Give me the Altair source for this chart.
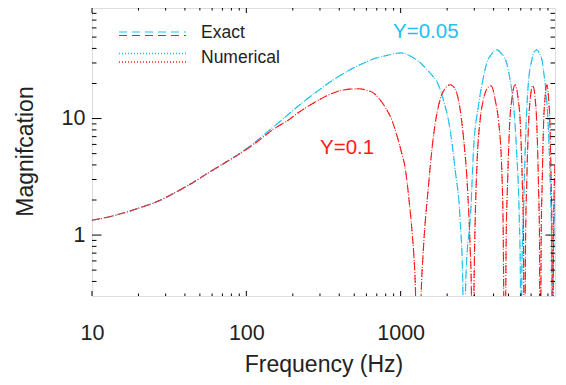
import altair as alt
import pandas as pd

# ---- data ----
red_freq = [10, 12.8, 16.4, 20.5, 26.2, 33.6, 43.2, 55.3, 71, 91, 117, 150, 187, 223, 286, 385, 470, 532,
            603, 665, 735, 812, 880, 944, 1010, 1068, 1138, 1190, 1240, 1306, 1356, 1403, 1514, 1631,
            1800, 1950, 2100, 2250, 2367, 2548, 2705, 2818, 2870, 2924, 2990, 3025, 3113, 3275, 3436,
            3620, 3837, 4000, 4093, 4296, 4518, 4620, 4720, 4830, 4920, 5100, 5250, 5508, 5780, 5943,
            6150, 6250, 6343, 6450, 6550, 6760, 6900, 7178, 7450, 7600, 7820, 7930, 8035, 8140, 8250,
            8450, 8600, 8851, 9100, 9250, 9450, 9560, 9670, 9800, 10000]
red_mag = [1.34, 1.43, 1.56, 1.72, 1.93, 2.27, 2.73, 3.35, 4.1, 5.0, 6.3, 8.1, 9.7, 11.5, 14.1, 17.0, 17.9, 18.0,
           17.5, 16.6, 14.5, 11.9, 9.6, 7.2, 5.2, 3.8, 1.9, 1.0, 0.42, 0.03, 0.3, 0.75, 2.64, 7.06,
           14.5, 18.3, 19.5, 18.0, 14.5, 7.06, 2.64, 0.8, 0.35, 0.03, 0.4, 1.0, 3.67, 9.8, 14.5,
           18.0, 19.1, 17.0, 14.5, 9.8, 3.67, 1.0, 0.03, 1.0, 2.6, 9.8, 14.5, 19.5, 14.5, 9.8,
           2.6, 1.0, 0.03, 1.0, 2.6, 9.8, 14.5, 19.1, 14.5, 9.8, 2.6, 1.0, 0.03, 1.0, 2.6,
           9.8, 14.5, 19.5, 14.5, 9.8, 2.6, 1.0, 0.03, 1.2, 4.0]

cyan_freq = [10, 12.8, 16.4, 20.5, 26.2, 33.6, 43.2, 55.3, 71, 91, 117, 135.5, 174, 223, 286, 366, 470, 573,
             665, 812, 944, 1000, 1042, 1151, 1270, 1403, 1549, 1753, 1890, 2090, 2253, 2427, 2525,
             2575, 2640, 2858, 2958, 3186, 3400, 3608, 3900, 4198, 4500, 4861, 5100, 5370, 5646, 5872,
             5960, 6025, 6100, 6250, 6400, 6560, 6760, 7050, 7300, 7621, 7950, 8300, 8409, 8700, 9065,
             9300, 9500, 9620, 9750, 10000]
cyan_mag = [1.34, 1.43, 1.56, 1.72, 1.93, 2.27, 2.73, 3.35, 4.1, 5.05, 6.45, 7.6, 10.0, 13.2, 17.0, 21.5, 26.2, 29.9,
            32.4, 34.8, 36.3, 36.6, 36.4, 34.5, 31.9, 28.4, 24.6, 19.5, 14.5, 8.05, 3.67, 1.37, 0.4,
            0.03, 0.4, 1.78, 5.1, 12.7, 21.0, 29.9, 36.0, 38.9, 36.0, 29.9, 22.0, 13.6, 5.1, 1.37,
            0.5, 0.03, 0.5, 1.6, 5.0, 12.0, 22.0, 31.0, 37.0, 38.9, 36.0, 30.0, 26.2, 18.0, 8.0,
            3.0, 0.9, 0.03, 0.5, 2.0]

x_major = [10, 100, 1000]
x_minor = [20, 30, 40, 50, 60, 70, 80, 90, 200, 300, 400, 500, 600, 700, 800, 900,
           2000, 3000, 4000, 5000, 6000, 7000, 8000, 9000]
y_major = [1, 10]
y_minor = [0.4, 0.5, 0.6, 0.7, 0.8, 0.9, 2, 3, 4, 5, 6, 7, 8, 9, 20, 30, 40, 50, 60, 70, 80]

legend_names = ["Exact", "Numerical"]
curve_names = ["Y=0.05", "Y=0.1"]

# ---- style ----
W, H = 463, 288
FONT = "Liberation Sans"
CYAN = "#1FBFEF"
RED = "#FF1A1A"
TXT = "#222222"
DASH = [8, 5]
DOT = [1, 2]

xs = alt.Scale(type="log", domain=[10, 10000])
ys = alt.Scale(type="log", domain=[0.3, 88.9])

red_df = pd.DataFrame({"f": red_freq, "m": red_mag})
cyan_df = pd.DataFrame({"f": cyan_freq, "m": cyan_mag})

x_axis = alt.Axis(values=x_major, format="d", ticks=False, tickSize=0, domain=False, grid=False,
                  labelFont=FONT, labelFontSize=21.5, labelColor=TXT, labelPadding=26, labelFlush=False,
                  title="Frequency (Hz)", titleFont=FONT, titleFontSize=23, titleFontWeight="normal",
                  titleColor=TXT, titleBaseline="middle", titleY=68)
y_axis = alt.Axis(values=y_major, format="d", ticks=False, tickSize=0, domain=False, grid=False,
                  labelFont=FONT, labelFontSize=21.5, labelColor=TXT, labelPadding=7,
                  title="Magnifcation", titleFont=FONT, titleFontSize=23, titleFontWeight="normal",
                  titleColor=TXT, titleBaseline="middle", titleX=-67, titleY=143)


def curve(df, color, dash):
    return alt.Chart(df).mark_line(color=color, strokeDash=dash, strokeWidth=1.1, clip=True,
                                   interpolate="monotone").encode(
        x=alt.X("f:Q", scale=xs, axis=x_axis),
        y=alt.Y("m:Q", scale=ys, axis=y_axis),
    )


layers = [
    curve(cyan_df, CYAN, DASH),
    curve(red_df, RED, DASH),
    curve(cyan_df, CYAN, DOT),
    curve(red_df, RED, DOT),
]

# inward ticks on all four sides
def xticks(vals, length):
    d = pd.DataFrame({"v": vals})
    bot = alt.Chart(d).mark_rule(color="black", strokeWidth=1).encode(
        x=alt.X("v:Q", scale=xs, axis=x_axis), y=alt.value(H), y2=alt.value(H - length))
    top = alt.Chart(d).mark_rule(color="black", strokeWidth=1).encode(
        x=alt.X("v:Q", scale=xs, axis=x_axis), y=alt.value(0), y2=alt.value(length))
    return [bot, top]


def yticks(vals, length):
    d = pd.DataFrame({"v": vals})
    left = alt.Chart(d).mark_rule(color="black", strokeWidth=1).encode(
        y=alt.Y("v:Q", scale=ys, axis=y_axis), x=alt.value(0), x2=alt.value(length))
    right = alt.Chart(d).mark_rule(color="black", strokeWidth=1).encode(
        y=alt.Y("v:Q", scale=ys, axis=y_axis), x=alt.value(W), x2=alt.value(W - length))
    return [left, right]


layers += xticks(x_major, 5) + xticks(x_minor, 2.5) + yticks(y_major, 9.5) + yticks(y_minor, 4.5)

# legend
one = pd.DataFrame({"k": [0]})
def leg_line(y, color, dash, width):
    return alt.Chart(one).mark_rule(color=color, strokeDash=dash, strokeWidth=width).encode(
        x=alt.value(27), x2=alt.value(94), y=alt.value(y))

layers += [leg_line(24, CYAN, DASH, 1.2), leg_line(27.5, RED, DASH, 1.2),
           leg_line(45.5, CYAN, DOT, 1.4), leg_line(54, RED, DOT, 1.4)]

def label(text, x, y, color, size):
    return alt.Chart(pd.DataFrame({"t": [text]})).mark_text(
        align="left", baseline="middle", font=FONT, fontSize=size, color=color).encode(
        x=alt.value(x), y=alt.value(y), text="t:N")

layers += [label(legend_names[0], 109, 25, TXT, 17.5),
           label(legend_names[1], 109, 50, TXT, 17.5),
           label(curve_names[0], 301, 24, CYAN, 20.5),
           label(curve_names[1], 228, 140, RED, 20.5)]

chart = alt.layer(*layers).properties(
    width=W, height=H,
    autosize=alt.AutoSizeParams(type="none"),
    padding={"left": 84, "top": 0, "right": 2, "bottom": 81},
).configure_view(stroke="black", strokeWidth=1).configure(background="white")

chart.save("out.html", embed_options={"renderer": "svg", "actions": False})
